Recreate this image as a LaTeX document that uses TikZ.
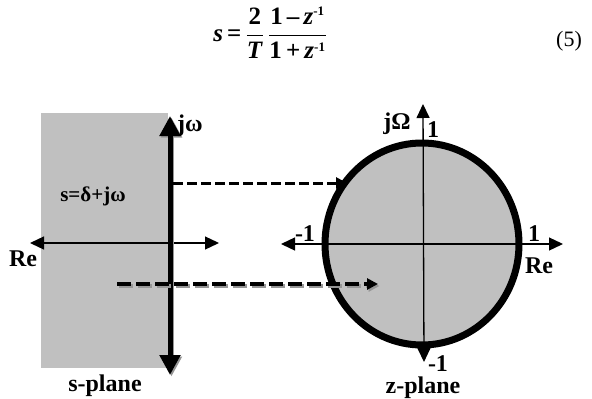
\documentclass[tikz,border=0pt]{standalone}
\usepackage{fontspec}
\setmainfont{Liberation Serif}
\usetikzlibrary{arrows.meta}
\definecolor{PlaneGray}{RGB}{192,192,192}
\definecolor{ShadowGray}{RGB}{150,150,150}
\newcommand{\bfit}[1]{\textbf{\textit{#1}}}
\newcommand{\invsup}{\mbox{\fontsize{13}{13}\selectfont\bfseries -1}}

\begin{document}
\begin{tikzpicture}[x=1pt,y=-1pt,
    lbl/.style={font=\bfseries\fontsize{24}{28}\selectfont,inner sep=0pt},
    thinaxis/.style={line width=1.3pt,{Triangle[length=14pt,width=13pt]}-{Triangle[length=14pt,width=13pt]}},
    thickaxis/.style={line width=5pt,{Triangle[length=20pt,width=20pt]}-{Triangle[length=20pt,width=20pt]}},
    maparrow/.style={line width=3pt,dash pattern=on 10pt off 4pt,-{Triangle[length=11pt,width=11pt]}}]
  \useasboundingbox (0,0) rectangle (592,399);
  % equation
  \node[inner sep=0pt,font=\fontsize{25}{30}\selectfont] (eqn) at (270,33)
    {$\displaystyle\bfit{s}\,\textbf{=}\,\frac{\textbf{2}}{\bfit{T}}\,\frac{\textbf{1}\,\textbf{--}\,\bfit{z}^{\invsup}}{\textbf{1}\,\textbf{+}\,\bfit{z}^{\invsup}}$};
  \node[inner sep=0pt,font=\fontsize{22}{26}\selectfont] (eqno) at (569,41) {(5)};
  % s-plane
  \fill[PlaneGray] (41,113) rectangle (168,368);
  \coordinate (sre-l) at (30,243);
  \coordinate (sre-r) at (219,243);
  \coordinate (sjw-t) at (170,116);
  \coordinate (sjw-b) at (170,375);
  \draw[thinaxis] (sre-l) -- (sre-r);
  \draw[thickaxis,ShadowGray] ([shift={(1.5,1.5)}]sjw-t) -- ([shift={(1.5,1.5)}]sjw-b);
  \draw[thickaxis] (sjw-t) -- (sjw-b);
  \node[lbl] (sjw) at (190,126) {jω};
  \node[lbl,font=\bfseries\fontsize{21}{24}\selectfont] (sdef) at (93,196) {s=δ+jω};
  \node[lbl] (sre) at (23,259) {Re};
  \node[lbl] (splane) at (105,386) {s-plane};
  % z-plane
  \coordinate (zc) at (422,244);
  \fill[PlaneGray] (zc) ellipse [x radius=97pt,y radius=101pt];
  \coordinate (zre-l) at (281,244);
  \coordinate (zre-r) at (563,244);
  \coordinate (zim-t) at (423,104);
  \coordinate (zim-b) at (424,362);
  \draw[thinaxis] (zre-l) -- (zre-r);
  \draw[thinaxis] (zim-t) -- (zim-b);
  \draw[line width=7pt] (zc) ellipse [x radius=97pt,y radius=101pt];
  \node[lbl] (zjw) at (397,124) {jΩ};
  \node[lbl] (zone-t) at (433,130) {1};
  \node[lbl] (zone-l) at (305,234) {-1};
  \node[lbl] (zone-r) at (534,234) {1};
  \node[lbl] (zre) at (539,266) {Re};
  \node[lbl,anchor=base] (zone-b) at (438,371) {-1};
  \node[lbl] (zplane) at (423,388) {z-plane};
  % mapping arrows
  \coordinate (map1-s) at (173,183);
  \coordinate (map1-e) at (347,183);
  \coordinate (map2-s) at (117,284);
  \coordinate (map2-e) at (378,284);
  \draw[maparrow] (map1-s) -- (map1-e);
  \draw[maparrow,line width=4pt,dash pattern=on 14pt off 5pt,ShadowGray]
    ([shift={(1.5,2)}]map2-s) -- ([shift={(1.5,2)}]map2-e);
  \draw[maparrow,line width=4pt,dash pattern=on 14pt off 5pt] (map2-s) -- (map2-e);
\end{tikzpicture}
\end{document}
